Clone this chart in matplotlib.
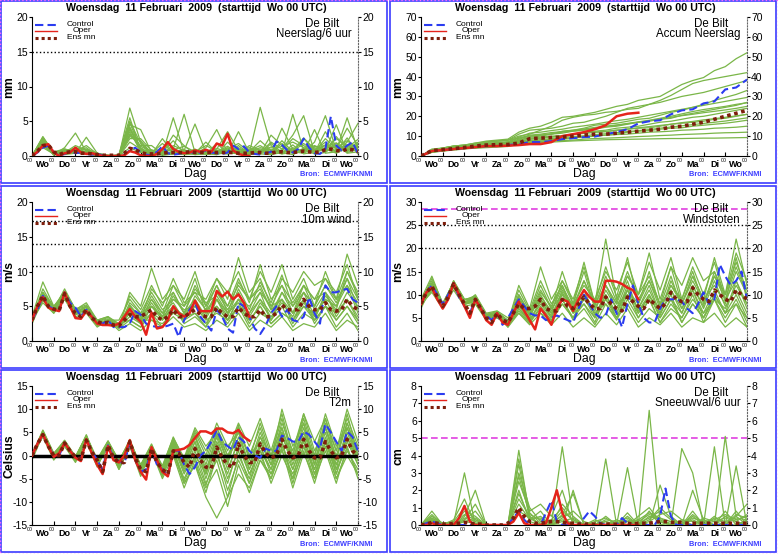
import numpy as np
import matplotlib
matplotlib.use('Agg')
import matplotlib.pyplot as plt
import matplotlib.transforms as mtransforms
from matplotlib.patches import Rectangle

plt.rcParams['font.family'] = ['Liberation Sans', 'DejaVu Sans']
plt.rcParams['axes.unicode_minus'] = False

days = ['Wo', 'Do', 'Vr', 'Za', 'Zo', 'Ma', 'Di', 'Wo', 'Do', 'Vr', 'Za', 'Zo', 'Ma', 'Di', 'Wo']
hours6 = list(range(0, 361, 6))
hours12 = list(range(0, 361, 12))
title = 'Woensdag  11 Februari  2009  (starttijd  Wo 00 UTC)'

# ---- neerslag per 6 uur (mm) ----
precip_control = [0, 0.5, 1.2, 1.5, 0.6, 0, 0.3, 0.6, 0.4, 0.5,
                  0.3, 0.2, 0.3, 0.1, 0, 0, 0, 0.2, 0.8, 1.2,
                  0.5, 0.2, 0.1, 0.6, 1.4, 0.4, 0.2, 0.3, 0.5, 0.6,
                  0.4, 0.5, 0.8, 0.5, 0.4, 0.3, 0.5, 1.5, 1.0, 1.4,
                  0.5, 0.3, 0.2, 0.4, 0.6, 2.1, 1.6, 0.8, 0.5, 1.0,
                  2.5, 1.2, 0.4, 0.3, 1.0, 5.7, 1.5, 0.8, 1.5, 2.0,
                  0.3]
precip_oper = [0, 0.6, 1.5, 1.7, 0.5, 0, 0.4, 0.5, 1.2, 0.5,
               0.3, 0.4, 0.2, 0, 0, 0, 0, 0.1, 0.7, 0.5,
               0.1, 0, 0, 0.3, 1.0, 2.0, 1.0, 0.6, 0.4, 0.5,
               0.8, 0.6, 0.9, 0.6, 1.8, 1.5, 3.2, 0.8, 0.3, 0.1,
               0]
precip_mean = [0, 0.7, 1.5, 1.6, 0.6, 0.2, 0.5, 0.6, 0.6, 0.4,
               0.4, 0.3, 0.2, 0.1, 0.1, 0.1, 0.1, 0.4, 1.1, 0.9,
               0.5, 0.3, 0.3, 0.3, 0.4, 0.5, 0.5, 0.5, 0.5, 0.6,
               0.5, 0.5, 0.5, 0.5, 0.5, 0.5, 0.5, 0.5, 0.4, 0.4,
               0.4, 0.5, 0.5, 0.4, 0.4, 0.6, 0.6, 0.5, 0.5, 0.6,
               0.7, 0.6, 0.5, 0.6, 0.9, 1.0, 0.8, 0.7, 1.0, 0.9,
               0.6]
precip_members = [
    [0, 2.8, 0.4, 0.6, 1.0, 0.3, 0.1, 0, 0, 6.9, 2.0, 0.3, 0.5, 1.0, 6.0, 0.5, 0.3, 1.0, 3.5, 0.8, 0.3, 0.5, 2.0, 1.0, 3.0, 5.8, 0.5, 1.0, 2.5, 1.5, 0.5],
    [0, 2.2, 0.2, 1.2, 3.3, 0.6, 0.2, 0, 0.1, 4.5, 3.8, 0.5, 0.2, 0.3, 0.8, 4.6, 0.5, 0.2, 0.6, 1.0, 0.4, 7.0, 1.5, 0.3, 0.5, 1.0, 0.6, 2.5, 1.0, 4.0, 1.5],
    [0, 1.8, 0.5, 0.8, 0.4, 2.7, 0.4, 0.1, 0, 3.0, 1.5, 1.5, 0.3, 5.5, 0.5, 0.3, 1.2, 3.8, 0.5, 0.3, 1.5, 0.8, 0.3, 4.0, 1.0, 0.5, 2.0, 5.8, 0.8, 1.0, 2.0],
    [0, 2.0, 0.3, 0.5, 1.5, 0.8, 0.3, 0, 0.2, 5.5, 0.8, 0.4, 1.8, 0.5, 0.3, 0.4, 2.0, 0.5, 0.3, 3.5, 0.5, 0.3, 1.8, 0.5, 6.0, 0.8, 1.5, 0.8, 4.5, 0.5, 1.0],
    [0, 2.5, 0.6, 1.0, 0.6, 1.2, 0.1, 0, 0, 2.5, 2.5, 0.8, 0.5, 3.0, 1.5, 0.2, 0.3, 0.4, 1.2, 0.5, 0.2, 0.4, 3.0, 1.5, 0.5, 2.5, 0.8, 1.5, 0.5, 2.0, 4.7],
    [0, 1.5, 0.2, 0.4, 0.8, 0.5, 0.2, 0, 0, 3.8, 1.2, 0.2, 0.4, 1.5, 0.8, 0.5, 0.3, 1.8, 0.4, 0.6, 0.8, 1.5, 0.5, 0.8, 2.5, 1.5, 0.5, 3.5, 0.8, 5.5, 0.8],
    [0, 2.3, 0.1, 0.7, 1.1, 0.4, 0, 0, 0, 4.0, 0.6, 0.2, 2.5, 0.4, 0.2, 0.6, 0.3, 0.2, 2.0, 0.4, 0.2, 0.8, 0.4, 2.2, 0.6, 0.4, 1.2, 0.6, 2.8, 0.9, 1.6],
    [0, 1.2, 0.3, 0.3, 0.5, 0.6, 0.2, 0.1, 0, 2.0, 1.0, 0.3, 0.2, 0.6, 0.4, 1.0, 0.2, 0.6, 0.3, 1.5, 0.3, 0.4, 0.6, 0.3, 1.2, 0.5, 3.8, 0.4, 0.6, 2.6, 0.3],
    [0, 2.6, 0.5, 0.2, 0.4, 0.3, 0.1, 0, 0, 1.2, 0.5, 0.6, 0.1, 0.3, 0.6, 0.2, 0.8, 0.3, 0.6, 0.3, 1.0, 0.3, 0.2, 0.5, 0.2, 0.9, 0.3, 0.5, 1.8, 0.4, 0.6],
    [0, 1.6, 0.4, 0.9, 0.7, 1.5, 0.3, 0, 0.1, 5.0, 1.8, 0.1, 0.3, 1.2, 0.2, 0.3, 0.5, 0.8, 1.0, 0.2, 0.6, 2.2, 0.8, 0.4, 1.6, 0.3, 0.6, 1.0, 0.4, 1.2, 2.4],
    [0, 2.0, 0.5, 0.4, 1.2, 0.9, 0.2, 0, 0, 3.2, 1.4, 0.6, 0.8, 0.9, 1.4, 0.6, 1.5, 0.7, 1.0, 1.8, 0.6, 1.2, 0.8, 1.4, 2.0, 1.2, 0.9, 1.6, 1.2, 2.2, 1.0],
    [0, 2.4, 0.3, 0.6, 0.9, 0.4, 0.1, 0, 0, 4.8, 0.9, 0.3, 0.6, 2.2, 0.4, 0.8, 0.4, 1.1, 0.6, 0.8, 1.2, 0.5, 1.0, 0.6, 0.8, 2.6, 1.0, 0.7, 1.4, 0.6, 1.8],
    [0, 1.9, 0.2, 1.0, 0.6, 0.7, 0.2, 0.1, 0, 2.8, 2.2, 0.4, 0.3, 0.7, 0.9, 0.4, 0.6, 0.5, 1.4, 0.4, 0.7, 1.0, 0.6, 1.8, 0.4, 1.1, 0.8, 2.0, 0.6, 1.4, 0.9],
    [0, 2.7, 0.4, 0.5, 0.8, 0.6, 0.3, 0, 0, 3.5, 0.7, 0.9, 0.4, 0.5, 0.3, 0.9, 0.3, 0.6, 0.8, 0.6, 0.4, 0.6, 1.3, 0.5, 1.0, 0.6, 1.4, 0.9, 0.8, 1.6, 1.2],
    [0, 1.4, 0.6, 0.7, 0.5, 1.0, 0.4, 0, 0.1, 4.2, 1.1, 0.2, 0.5, 0.4, 0.6, 0.3, 0.9, 0.4, 0.5, 1.2, 0.3, 0.8, 0.5, 0.9, 0.7, 1.8, 0.6, 1.2, 1.9, 0.8, 1.4],
]

# ---- geaccumuleerde neerslag (mm), 12-uurs ----
accum_control = [0, 2.5, 3, 3.5, 4, 4.5, 5, 5, 5.5, 6, 7, 7, 7.5, 8.5, 9, 9.5, 9.8, 11, 12, 13.5,
                 16.4, 17.5, 18, 21, 23, 23.5, 26.5, 27.5, 33.5, 34.5, 38.5]
accum_oper = [0, 2.5, 3, 3.5, 4, 4.5, 5, 5, 5.2, 5.5, 6, 6, 7, 10, 11, 12, 13.5, 15.5, 20, 21.3, 21.8]
accum_mean = [0, 2.7, 3.2, 3.7, 4.3, 5, 5.5, 5.7, 5.8, 6.5, 8.7, 9, 9.3, 9.5, 10, 10.5, 11, 11, 11.5, 12,
              12.5, 13, 13.5, 14.5, 15, 16, 17, 18.5, 20, 21.5, 23]
accum_members = [
    [0, 3.0, 4.0, 5.0, 5.5, 6.5, 7.5, 8.0, 8.5, 12.0, 14.0, 15.0, 17.0, 19.5, 20.0, 21.0, 22.0, 23.5, 25.0, 26.0, 28.0, 29.0, 30.0, 33.0, 36.0, 38.0, 39.5, 43.0, 45.0, 49.0, 52.0],
    [0, 2.5, 3.5, 4.5, 5.0, 6.0, 7.0, 7.5, 8.0, 10.0, 11.0, 13.0, 15.0, 18.0, 19.5, 20.5, 21.0, 22.0, 22.5, 23.5, 24.0, 26.0, 28.0, 30.5, 33.5, 36.5, 38.0, 39.0, 40.0, 41.0, 42.0],
    [0, 3.5, 4.0, 5.0, 5.5, 6.5, 7.0, 7.5, 8.0, 11.0, 13.0, 13.5, 14.0, 15.0, 16.5, 17.0, 18.5, 20.0, 22.0, 24.0, 25.0, 26.0, 27.0, 28.5, 30.0, 31.0, 32.0, 33.5, 35.0, 36.5, 38.0],
    [0, 2.0, 3.0, 3.8, 4.5, 5.0, 5.5, 6.0, 6.5, 8.0, 9.5, 10.0, 11.0, 12.5, 13.0, 14.0, 15.5, 16.0, 16.5, 17.5, 18.5, 19.0, 20.5, 22.0, 23.0, 24.5, 26.0, 28.0, 29.5, 31.0, 33.0],
    [0, 3.0, 4.0, 5.0, 5.5, 6.0, 7.0, 7.5, 8.0, 9.0, 10.0, 10.5, 11.0, 11.5, 12.5, 13.0, 13.5, 14.5, 15.0, 16.0, 17.0, 17.5, 18.5, 19.0, 20.5, 21.5, 22.5, 23.5, 24.5, 25.5, 27.0],
    [0, 2.5, 3.0, 3.5, 4.0, 4.5, 5.0, 5.5, 6.0, 7.0, 8.5, 9.0, 9.5, 10.0, 11.0, 12.0, 12.5, 13.0, 14.0, 14.5, 15.0, 16.0, 17.0, 17.5, 18.5, 19.5, 20.0, 21.0, 22.0, 23.0, 24.0],
    [0, 3.0, 3.5, 4.0, 5.0, 5.5, 6.0, 6.3, 6.5, 8.0, 9.0, 9.5, 10.0, 10.3, 11.0, 11.5, 12.0, 12.2, 13.0, 13.5, 14.0, 14.2, 15.0, 16.0, 16.5, 17.0, 17.5, 18.5, 19.0, 20.0, 21.0],
    [0, 2.0, 2.5, 3.2, 3.8, 4.0, 4.5, 5.0, 5.3, 6.0, 7.0, 7.5, 8.2, 8.5, 9.0, 9.8, 10.0, 10.5, 11.0, 12.0, 12.5, 12.8, 13.5, 14.0, 14.2, 15.0, 15.5, 16.0, 16.5, 17.2, 18.0],
    [0, 2.8, 3.5, 4.2, 4.5, 5.0, 5.5, 5.8, 6.0, 7.0, 7.5, 8.0, 8.3, 9.0, 9.2, 9.5, 10.0, 10.5, 10.8, 11.0, 11.5, 12.0, 12.2, 12.5, 13.0, 13.2, 13.5, 14.0, 14.2, 14.5, 15.0],
    [0, 2.2, 3.0, 3.5, 4.0, 4.3, 4.8, 5.0, 5.2, 6.5, 7.0, 7.2, 7.5, 7.8, 8.0, 8.5, 8.8, 9.0, 9.2, 9.5, 9.8, 10.0, 10.3, 10.5, 10.8, 11.0, 11.2, 11.5, 11.7, 11.8, 12.0],
    [0, 1.8, 2.5, 3.0, 3.5, 4.0, 4.2, 4.5, 4.8, 6.0, 6.5, 6.8, 7.0, 7.3, 7.6, 7.8, 8.0, 8.2, 8.3, 8.4, 8.5, 8.6, 8.7, 8.8, 8.8, 8.9, 9.0, 9.0, 9.1, 9.2, 9.3],
    [0, 2.6, 3.4, 4.0, 4.8, 5.3, 6.0, 6.3, 6.6, 8.5, 10.0, 10.5, 11.2, 12.0, 12.6, 13.2, 14.0, 14.8, 15.5, 16.2, 17.0, 17.8, 18.5, 19.5, 20.3, 21.0, 21.8, 22.5, 23.2, 24.0, 25.0],
    [0, 3.2, 3.8, 4.5, 5.2, 5.8, 6.4, 6.8, 7.2, 9.5, 11.5, 12.0, 12.8, 13.5, 14.5, 15.2, 16.0, 17.0, 17.8, 18.5, 19.5, 20.5, 21.5, 22.5, 23.5, 24.5, 25.5, 26.5, 27.5, 28.5, 29.5],
    [0, 2.4, 3.2, 3.8, 4.2, 4.8, 5.2, 5.6, 6.0, 7.5, 8.5, 9.0, 9.6, 10.2, 10.8, 11.4, 12.0, 12.4, 13.0, 13.6, 14.2, 14.8, 15.4, 16.0, 16.8, 17.4, 18.2, 18.8, 19.5, 20.2, 21.0],
    [0, 2.9, 3.6, 4.4, 5.0, 5.6, 6.2, 6.6, 7.0, 9.0, 10.5, 11.0, 11.8, 12.3, 13.0, 13.6, 14.4, 15.0, 15.6, 16.4, 17.2, 18.0, 19.0, 20.0, 21.2, 22.4, 23.4, 24.2, 25.0, 26.0, 26.8],
    [0, 2.3, 2.9, 3.4, 3.9, 4.4, 4.9, 5.2, 5.5, 6.8, 7.8, 8.2, 8.8, 9.3, 9.8, 10.2, 10.8, 11.2, 11.8, 12.3, 12.8, 13.3, 14.0, 14.6, 15.2, 15.8, 16.4, 17.0, 17.6, 18.4, 19.2],
]

# ---- 10m wind (m/s) ----
wind_control = [3, 4.5, 6.5, 5, 4.6, 4.4, 7, 5.5, 4.8, 3.5,
                4.5, 3.5, 2.8, 2.5, 3, 2, 2, 2, 2.5, 4.3,
                3.8, 2.5, 2.2, 2, 2, 2.2, 2.5, 0.6, 3, 4.5,
                5.5, 3.5, 2.5, 1.5, 4.5, 3.5, 1.8, 1.2, 5.5, 5,
                3.5, 1.8, 1, 2.2, 4, 5, 3.5, 4.5, 3, 2.8,
                3.5, 6.3, 4, 2.5, 8, 7, 7, 7.3, 7.5, 6,
                5.5]
wind_oper = [3, 5, 6.3, 4.8, 4.5, 4.3, 7, 5, 3.3, 3.2,
             4.3, 3.5, 2.5, 2.3, 2.3, 2.2, 2.5, 3.5, 4.6, 3.5,
             2.8, 0.9, 4.1, 1.8, 2, 3, 5, 4, 3.5, 4,
             5.8, 4.3, 4.3, 4.3, 7.2, 6.4, 7.1, 6, 6.7, 5.5,
             3.5]
wind_mean = [3, 5, 6.5, 5, 4.6, 4.4, 6.8, 5, 4, 3.5,
             4.5, 3.3, 2.8, 2.5, 2.7, 2.3, 2.2, 3, 3.8, 3.5,
             3.5, 4, 4.5, 3.5, 3, 3.5, 4.5, 3.5, 3.5, 4,
             4.5, 3.8, 3.5, 3.5, 4.8, 4, 3.5, 3.5, 4.8, 4,
             3.5, 3.5, 4.5, 3.5, 3.5, 4, 5.2, 4.5, 4.5, 4.5,
             6, 5, 4.5, 4.5, 5.5, 4.5, 4.3, 4.5, 6, 5,
             4.5]
wind_members = [
    [3, 7, 4.5, 6.5, 4, 5, 2.5, 3, 2, 5, 3, 6, 3.5, 7, 4, 8, 5, 9, 6, 12, 7, 9, 5, 8, 4, 7, 5, 10, 6, 8, 4],
    [3, 6, 5, 7, 4.5, 4, 3, 2.5, 2.5, 3, 2, 4, 2, 5, 3, 4, 2, 6, 3, 5, 2, 4, 3, 6, 2.5, 5, 3, 7, 4, 6, 3],
    [2.5, 6.5, 4.5, 7, 4, 4.5, 2.5, 3, 2, 7, 5, 10.5, 6, 8, 5, 9, 4, 7, 5, 8, 6, 10, 7, 11, 6, 9, 5, 8, 6, 12.5, 8],
    [3.5, 8.5, 5, 6, 4.5, 5.5, 3, 3.5, 2.5, 4, 3, 3, 2, 3.5, 2, 2.5, 1.5, 3, 2, 4, 1.5, 3, 2, 3.5, 1.5, 2.5, 2, 4, 1.5, 3, 2],
    [3, 6, 4.5, 7.5, 4.5, 5, 3, 2.5, 2, 5.5, 4, 7, 4.5, 6, 5, 7, 6, 9, 7, 10, 6, 8, 4.5, 9, 7, 10, 8, 9, 6, 10, 7],
    [3, 5.5, 4, 6, 3.5, 4, 2, 3, 1.5, 2.5, 1.5, 3, 2.5, 4, 3, 5, 4, 5, 3, 6, 4, 7, 3, 5, 2, 4, 3, 5, 2, 4, 1.5],
    [3, 6.5, 4.5, 6.5, 4, 4.5, 2.5, 3, 3, 6, 4, 5, 3, 6, 4.5, 5, 3, 4, 3, 5, 4, 6, 4, 7, 5, 8, 6, 7, 5, 9, 6],
    [3, 7, 5, 6.5, 4, 5, 3, 3.5, 2, 4, 2.5, 5, 3.5, 5, 2.5, 3.5, 2, 4.5, 2.5, 5, 3, 5, 2.5, 4, 3, 6, 2.5, 5, 3, 5, 2.5],
    [3, 6, 4.5, 7, 4.5, 4.5, 2.5, 2.5, 2.5, 4.5, 3, 6, 4, 8, 6, 10, 5, 8, 4, 6, 3, 5, 2.5, 4, 3, 5, 4, 6, 3, 5, 3],
    [2.5, 6, 4, 6.5, 4, 5, 2.5, 3, 2, 3.5, 2.5, 4, 3, 5, 3.5, 4, 2.5, 5, 3, 6, 5, 7, 5, 6, 4, 6, 3, 5, 4, 7, 5],
    [3, 6.8, 4.8, 7, 4.2, 4.8, 2.8, 3.2, 2.2, 6.5, 4.5, 8, 5, 9, 5.5, 7, 4.5, 8, 5, 9, 5.5, 11, 6, 8, 5.5, 8, 6, 9, 7, 11, 6],
    [3, 6.2, 4.2, 6.8, 3.8, 4.2, 2.2, 2.8, 1.8, 3, 2, 5, 3.5, 6.5, 4, 6, 3.5, 7, 4.5, 7, 3.5, 6, 3, 7, 4, 8, 4.5, 7, 3.5, 6, 3.5],
    [3.2, 7.5, 4.8, 7.2, 4.6, 5.2, 2.8, 3.4, 2.4, 5, 3.5, 6.5, 4, 5.5, 3, 6.5, 4.5, 6, 3.5, 7.5, 4.5, 8.5, 5.5, 9.5, 5, 7, 3.5, 6, 5, 8, 5.5],
    [2.8, 5.8, 4.3, 6.2, 3.8, 4.6, 2.6, 2.8, 2.2, 4.2, 2.8, 5.5, 3.2, 4.5, 3.8, 5.5, 3.2, 6, 4, 5.5, 2.5, 5.5, 3.5, 5.5, 3.5, 7, 5, 8, 5.5, 9, 4.5],
    [3, 6.6, 4.6, 6.6, 4.1, 4.9, 2.4, 3.1, 2.1, 5.2, 3.2, 7.5, 5.5, 7, 4, 7.5, 5.5, 6.5, 4, 8.5, 6, 7.5, 4.5, 6, 3, 5.5, 3.5, 6.5, 4.5, 10, 6.5],
]

# ---- windstoten (m/s) ----
gust_control = [8, 10.5, 12, 10, 8, 10, 12.5, 9.5, 7.5, 6,
                9, 7, 5.5, 4.5, 6, 3.5, 5, 7, 9, 7.5,
                6, 5.5, 5.5, 4.5, 5, 5.5, 5, 4.5, 4, 7,
                10, 8, 6, 5, 5.5, 9, 6, 3, 8, 12,
                8, 5, 4, 4, 7, 9, 9, 9, 8.5, 7,
                6, 8, 10.5, 8, 9, 16.5, 14, 12, 13, 15,
                9]
gust_oper = [8, 10.5, 11.5, 9, 7, 9, 12.5, 10, 7.5, 5,
             9, 7, 4.5, 3.5, 6, 4, 3.5, 6, 8.5, 6.5,
             4.5, 2.5, 7, 5.5, 3.5, 7, 9, 8.5, 6.5, 9,
             11, 9.5, 8.5, 8.5, 13, 13, 12.8, 12.3, 11.5, 11,
             9]
gust_mean = [8, 10.5, 11.8, 9.5, 7.5, 9.5, 12.3, 10, 8, 6,
             9, 7, 5, 4, 6, 4.5, 4, 6, 8, 7,
             7, 7.5, 9, 7, 6.5, 6.5, 9, 7.5, 7, 8,
             9.5, 8, 7, 7, 9.5, 8, 7, 6.5, 9.5, 8.5,
             7.5, 7, 9, 8, 7, 8, 10.5, 9, 8.5, 8.5,
             11.5, 10, 9, 8.5, 11, 10, 9, 8.5, 11, 10,
             9]
gust_members = [
    [8, 13, 8, 12.5, 8, 9, 5, 6, 3.5, 10, 6, 12, 7, 15, 8, 17, 8, 22, 9, 14, 10, 19, 9, 16, 8, 14, 9, 18, 10, 22, 12],
    [7.5, 11, 7.5, 12, 8.5, 8, 5, 5, 4, 6, 4, 7, 4, 9, 5, 8, 4, 10, 5, 8, 4, 7, 5, 9, 4, 8, 5, 10, 6, 8, 5],
    [8, 12, 7, 13, 9, 9.5, 5.5, 6, 4, 12, 7, 16, 9, 13, 8, 15, 7, 12, 8, 14, 10, 17, 11, 18, 9, 15, 8, 14, 10, 19, 13],
    [9, 14, 8, 11.5, 8, 10, 6, 6.5, 5, 8, 5, 6, 3.5, 6, 3, 5, 3, 6, 3.5, 7, 3, 5, 3.5, 6, 3, 5, 4, 6, 3, 5, 3],
    [8, 11.5, 7.5, 13, 9, 9, 5.5, 5, 3.5, 9, 6, 11, 7, 10, 8, 12, 9, 15, 11, 17, 10, 14, 8, 16, 12, 18, 13, 15, 10, 17, 11],
    [8, 10.5, 7, 11, 7.5, 8, 4.5, 5.5, 3, 6, 3.5, 6, 4.5, 8, 5, 9, 6, 9, 5, 11, 7, 12, 6, 10, 4, 8, 5, 9, 4, 8, 3],
    [8, 12, 7.5, 12.5, 8.5, 9, 5, 6, 4.5, 10, 6, 9, 5, 11, 7, 10, 6, 8, 5, 10, 7, 11, 6, 13, 8, 14, 9, 12, 8, 15, 10],
    [8.5, 12.5, 8, 12, 8, 9.5, 5.5, 6, 3.5, 7, 4, 9, 6, 9, 4.5, 7, 3.5, 8, 4.5, 9, 5, 9, 4, 7, 5, 10, 4, 9, 5, 9, 4],
    [8, 11, 7.5, 12.5, 8, 8.5, 5, 5, 4, 8, 5, 10, 6, 13, 9, 16, 8, 12, 7, 11, 5, 9, 4, 8, 5, 9, 6, 11, 6, 10, 5],
    [7, 12, 7, 12, 8, 9, 5, 6, 3, 7, 4.5, 8, 5, 10, 6, 8, 5, 9, 6, 11, 8, 13, 8, 11, 7, 11, 6, 9, 7, 12, 8],
    [8, 12.5, 7.8, 12.8, 8.8, 9.8, 5.8, 6.2, 4.2, 11, 6.5, 13, 8, 12, 7, 13, 7.5, 14, 8.5, 15, 9, 13, 7, 12, 9, 16, 10, 17, 9, 16, 10],
    [8, 11.8, 7.2, 12.2, 7.8, 8.8, 5.2, 5.8, 3.8, 7.5, 4.5, 8.5, 5.5, 10.5, 6.5, 11, 5.5, 10, 6, 12, 6.5, 10, 5.5, 11, 6, 12, 7, 13, 7.5, 11, 6],
    [8.2, 12.2, 7.6, 12.4, 8.2, 9.2, 5.4, 5.6, 3.6, 8.5, 5.5, 10.5, 7.5, 12, 6, 9.5, 5, 11, 7, 13, 6, 10, 5, 9, 6, 11, 5, 10, 6, 13, 7],
    [7.8, 11.2, 7.4, 11.8, 8, 8.6, 5, 5.4, 3.2, 6.5, 3.8, 7.5, 4.5, 8, 5, 9.5, 6.5, 12, 8, 10, 6, 9.5, 7, 12, 8, 13, 8.5, 14, 9, 13, 8],
    [8.4, 13.5, 8.2, 12.6, 8.4, 9.6, 5.6, 6.4, 4.4, 9.5, 5.5, 9.5, 6.5, 11.5, 7.5, 13, 8, 16, 9.5, 18, 8, 15, 7.5, 14, 7, 12, 7.5, 15, 8.5, 18, 9],
]

# ---- T2m (Celsius) ----
t2m_control = [0, 2.5, 4.5, 2, 0, 0, 2.8, 1, -0.3, -0.8,
               3.5, 1, -1, -3, 2.2, -0.5, -1.2, -1.8, 3, -1,
               -3.5, -3, 1.5, -2, -3, -4.5, 1, 1, -2, -4,
               -2.5, 0, 1, 3, 5.5, 3, 2, 1.2, 4, 3,
               1, 0, -0.5, 1.5, 1, 1, 4.3, 3.8, 3, 3,
               5.2, 4.5, 3, 1.5, 6.8, 5, 3, 1, 5.2, 4,
               1]
t2m_oper = [0, 2.5, 4.6, 2, -0.3, 0.5, 2.7, 1, -0.5, -1.2,
            3.5, 0.5, -2, -4, 2, -1, -1.5, 0, 3.3, -1,
            -3.5, -5.2, 1.8, -1, -3.5, -4.5, 1, 1.2, 1.5, 2.3,
            3.8, 5.2, 5.2, 4.7, 5.8, 5.8, 5, 4.8, 5.5, 4,
            3.2]
t2m_mean = [0, 2.5, 4.5, 2, 0, 0, 2.7, 1, -0.3, -0.8,
            3.3, 0.8, -1, -3.5, 2.2, -0.5, -1.5, -1.5, 3, -0.5,
            -3, -3.5, 1.5, -1.5, -3, -4, 1, 0.5, -1.5, -2.5,
            1.5, -1, -2.5, -2.8, 1.8, -0.5, -2, -2.5, 2.5, 0,
            -1.5, -1.5, 2.5, 0.5, -0.5, 0, 3.5, 1, -0.5, 0,
            3.5, 1, -0.5, -0.5, 3, 1, -0.5, 0, 3.5, 1,
            0]
t2m_members = [
    [0, 5, 0, 3, -0.5, 4, -1.5, 2.5, -2, 3, -3, 2, -3, 3, -2, 4, -1, 6, 1, 7, 2, 8, 1, 9, 0, 8, 0, 7, 1, 8, 2],
    [-0.5, 4.5, -0.5, 2.5, -1, 3.5, -2, 2, -2.5, 2.5, -4, 1, -4.5, 1, -6, -2, -9, -13.5, -9, -4, -7, -1, -5, 2, -3, 3, -4, 2, -5, 1, -3],
    [0, 5.5, 0.5, 3, -0.5, 4, -1, 3, -1.5, 3.5, -2.5, 2, -2.5, 4, -1, 5, 0, 7, 2, 5, 0, 3, -2, 4, -1, 6, -2, 5, -3, 6, -1],
    [0, 4, -1, 2, -1.5, 3, -2.5, 2.5, -3, 2, -4.5, 1, -5, 0, -7, -1, -8, 0, -6, 2, -4, 1, -6, 0, -5, 1, -6, 2, -5, 0, -4],
    [0, 5, 0, 3, -0.5, 4.5, -1.5, 3, -1, 3, -2, 1.5, -3, 2, -3, 3, -5, 2, -4, 4, -2, 5, -1, 7, 1, 9, 3, 8, 1, 10, 3],
    [-1, 4.5, -0.5, 2.5, -1, 3.5, -2, 2, -2, 3, -3.5, 1.5, -4, 2, -4, 1, -6, -1, -9, 0, -5, 3, -2, 5, -3, 4, -4, 3, -2, 5, -1],
    [0, 5, 0, 3, -1, 4, -1.5, 2.5, -1.5, 2.5, -3, 2, -3.5, 3, -2, 4, -3, 3, -2, 6, 0, 6, -1, 10, 2, 7, -1, 6, 0, 7, 1],
    [0, 4.5, -0.5, 2.5, -1, 3.5, -2, 2, -2.5, 3, -3, 1, -4, 1, -5, 0, -4, 4, -3, 3, -4, 1, -3, 3, -6, 2, -3, 4, -4, 3, -2],
    [0.5, 5, 0, 3, -0.5, 4, -1, 3, -2, 2.5, -2, 2.5, -3, 3, -1, 5.5, 1, 6, 0, 5, -2, 4, 0, 6, -2, 5, 0, 9, 2, 6, 0],
    [0, 4.5, 0, 2, -1, 3, -2, 2, -3, 2, -4, 1.5, -4, 0.5, -6, -2, -7, -3, -11, -2, -8, -1, -4, 1, -4, 2, -5, 1, -6, 2, -5],
    [0, 5.2, 0.2, 3.2, -0.3, 4.2, -1.2, 2.8, -1.8, 3.2, -2.8, 2.2, -2.8, 3.5, -1.5, 4.5, -2, 5, -1, 6.5, -1, 7, 0, 8, -1, 7, -2, 8, -1, 9, 0],
    [-0.3, 4.8, -0.3, 2.8, -0.8, 3.8, -1.8, 2.2, -2.2, 2.8, -3.2, 1.8, -3.8, 2.5, -3.5, 2, -4, 2.5, -5, 1, -6, 2, -4, 3, -5, 4, -3, 3, -4, 4, -2],
    [0, 4.6, -0.2, 2.6, -1.2, 3.6, -2.2, 2.2, -2.6, 2.6, -3.8, 1.2, -4.2, 1.5, -5.5, -0.5, -6.5, 1, -7.5, -1, -6, 0, -5, 1.5, -7, 0.5, -5, 3, -3, 1.5, -4],
    [0.2, 5.4, 0.4, 3.3, -0.2, 4.3, -0.8, 3.2, -1.2, 3.3, -2.2, 2.3, -2.2, 3.8, -0.5, 6, 2, 5, 0, 3, -3, 2, -3, 5, 0, 9, 1, 6, -2, 4, -1],
    [0, 4.8, 0, 2.8, -0.7, 3.7, -1.7, 2.7, -2.3, 2.7, -3.3, 1.7, -3.3, 2.7, -2.5, 3, -3.5, 4.5, -1.5, 5.5, -3, 4, -2, 6, -1, 5, -2, 6, -1, 7, 0],
]

# ---- sneeuwval per 6 uur (cm) ----
snow_control = [0, 0.1, 0.2, 0.1, 0, 0, 0, 0, 0, 0,
                0, 0, 0, 0, 0, 0, 0, 0.4, 0.8, 0.3,
                0, 0, 0, 0.7, 1.4, 0.2, 0, 0, 0, 0,
                0.4, 0.8, 0.5, 0.1, 0, 0, 0, 0.4, 0.1, 0,
                0, 0, 0, 0, 0.5, 2.1, 0.5, 0, 0, 0,
                0, 0, 0, 0, 0, 0, 0, 0, 0, 0,
                0]
snow_oper = [0, 0, 0.1, 0, 0, 0, 0, 0.4, 1.1, 0.2,
             0, 0, 0, 0, 0, 0, 0, 0.2, 0.7, 0.1,
             0, 0, 0, 0.1, 1.0, 2.0, 0.7, 0.1, 0, 0,
             0, 0, 0, 0, 0, 0, 0, 0, 0, 0,
             0]
snow_mean = [0, 0.05, 0.15, 0.1, 0.05, 0.05, 0.1, 0.1, 0.15, 0.1,
             0.05, 0.05, 0, 0, 0, 0, 0.1, 0.4, 1.0, 0.5,
             0.2, 0.1, 0.1, 0.15, 0.2, 0.2, 0.15, 0.1, 0.1, 0.05,
             0.05, 0.05, 0.05, 0.05, 0.05, 0.05, 0.05, 0.1, 0.1, 0.05,
             0.1, 0.1, 0.1, 0.15, 0.2, 0.2, 0.15, 0.15, 0.15, 0.1,
             0.1, 0.1, 0.1, 0.1, 0.1, 0.1, 0.1, 0.1, 0.1, 0.1,
             0.1]
snow_members = [
    [0, 0.8, 0, 0.1, 3.0, 0, 0, 0, 0, 4.3, 0.5, 0, 0, 4.5, 0.3, 0, 0, 0, 0, 0.3, 0, 6.6, 0.2, 0, 0, 0.3, 0, 0, 5.1, 0.5, 0],
    [0, 0.3, 0, 0, 0.5, 2.0, 0, 0, 0, 3.5, 0.3, 0.5, 0, 0, 2.0, 0, 0, 3.8, 0, 0, 0, 0.5, 0.3, 0, 4.4, 3.0, 0, 0, 0, 3.4, 0],
    [0, 0.5, 0.1, 0.2, 1.0, 0.3, 0, 0, 0, 3.0, 1.0, 0.2, 0.3, 1.0, 0.2, 0, 0, 0.5, 0, 3.3, 0, 0, 2.3, 0.5, 0, 0.8, 0, 4.5, 0, 0.5, 1.2],
    [0, 0.2, 0, 0, 0.8, 0.5, 0, 0, 0, 2.5, 0.8, 1.2, 0.5, 2.0, 0, 0, 0, 0, 0.3, 0, 0.5, 1.0, 0.2, 0, 0, 0, 0.3, 0, 0.8, 0, 0.3],
    [0, 0.6, 0, 0, 0.3, 0.8, 0, 0, 0, 2.0, 0.2, 0, 0, 1.2, 0.5, 0, 0.3, 0, 0, 0.5, 0, 0.8, 0, 0, 0.3, 0, 0, 0.5, 0, 0, 0.2],
    [0, 0.4, 0, 0.3, 1.5, 0, 0, 0, 0, 1.5, 0.5, 0, 0, 0.3, 0, 0, 0, 0, 0, 0, 0.3, 0, 0, 0.2, 0, 0.5, 0, 0, 0, 0.8, 0],
    [0, 0.1, 0, 0, 0.2, 0.1, 0, 0, 0, 1.2, 0.3, 0.8, 0, 0.6, 1.8, 0, 0, 0.2, 0, 0.7, 0, 0.3, 1.0, 0.4, 0, 2.0, 0.3, 0, 0.5, 0.2, 0],
    [0, 0.3, 0, 0, 0.4, 0.2, 0, 0, 0, 0.8, 0.4, 0, 0.2, 0.5, 0, 0, 0, 0.2, 0, 0, 0.2, 0.6, 0.4, 0, 0.2, 0, 0.4, 0.2, 0, 0.6, 0.4],
    [0, 0.2, 0, 0.1, 0.6, 0.3, 0, 0, 0, 2.8, 0.6, 0.3, 0.1, 0.8, 0.3, 0, 0.2, 0.4, 0, 0.2, 0.1, 0.4, 0.8, 0.3, 0, 0.4, 0.2, 0.3, 0.6, 0.3, 0.5],
    [0, 0.4, 0.1, 0, 0.3, 1.2, 0, 0, 0, 1.8, 0.4, 0.4, 0, 0.4, 0.8, 0.2, 0, 0.3, 0.2, 0.4, 0, 0.2, 0.6, 0.8, 0.3, 0.2, 0, 0.4, 0.2, 0.4, 0.3],
    [0, 0.3, 0, 0, 0.2, 0.4, 0, 0, 0, 3.8, 0.7, 0.1, 0, 0.2, 0.4, 0, 0, 0, 0.1, 0.2, 0.3, 0.7, 0.4, 0.2, 0, 0.6, 0.1, 0.2, 0.4, 0.2, 0.6],
]

# drempels
wind_beaufort = [10.8, 13.9, 17.2]
gust_black = [20, 25]
gust_magenta = 28.5
snow_magenta = 5

GREEN = '#7ab648'
BLUE = '#2b3cf0'
RED = '#e5231b'
BROWN = '#7d1e0c'
W, H = 778, 554

fig = plt.figure(figsize=(W / 100, H / 100), dpi=100)


def fx(px):
    return px / W


def fy(py):
    return 1 - py / H


def panel(px0, py0, ylim, ystep, ylabel, name, members, mhours, control, oper, mean, lhours):
    fig.patches.append(Rectangle((fx(px0 + 1), fy(py0 + 183)), 386 / W, 182 / H,
                                 transform=fig.transFigure, fill=False, ec='#3c3cff', lw=1.2))
    ax = fig.add_axes([fx(px0 + 32), fy(py0 + 156), 326 / W, 139 / H])
    for m in members:
        ax.plot(mhours, m, color=GREEN, lw=0.9, zorder=2)
    ax.plot(lhours[:len(control)], control, color=BLUE, lw=1.5, ls=(0, (4, 2)), zorder=4)
    ax.plot(lhours[:len(oper)], oper, color=RED, lw=1.8, zorder=5)
    ax.plot(lhours[:len(mean)], mean, color=BROWN, lw=2.6, ls=(0, (1, 1)), zorder=6)
    ax.set_xlim(0, 360)
    ax.set_ylim(*ylim)
    ax.set_yticks(np.arange(ylim[0], ylim[1] + 0.01, ystep))
    ax.tick_params(axis='y', labelsize=7.5, length=2, right=True, labelright=True, pad=1)
    ax.set_xticks(range(0, 361, 24))
    ax.set_xticklabels([])
    ax.tick_params(axis='x', length=3, direction='in')
    ax.spines['top'].set_visible(False)
    ax.spines['right'].set_linestyle(':')
    ax.spines['right'].set_color('#666666')
    trans = mtransforms.blended_transform_factory(ax.transData, ax.transAxes)
    for h in range(0, 361, 24):
        ax.text(h - 2, -0.03, '00', fontsize=3.8, ha='center', va='center', transform=trans)
    for i, d in enumerate(days):
        ax.text(12 + 24 * i, -0.062, d, fontsize=6.5, weight='bold', ha='center', va='center', transform=trans)
    # legende
    for yy, c, ls, lw in [(0.942, BLUE, (0, (4, 2)), 1.5), (0.898, RED, '-', 1.0), (0.85, BROWN, (0, (1, 1)), 2.2)]:
        ax.plot([0.01, 0.077], [yy, yy], color=c, ls=ls, lw=lw, transform=ax.transAxes, zorder=7)
    ax.text(0.148, 0.945, 'Control', fontsize=6, ha='center', va='center', transform=ax.transAxes)
    ax.text(0.152, 0.9, 'Oper', fontsize=6, ha='center', va='center', transform=ax.transAxes)
    ax.text(0.152, 0.855, 'Ens mn', fontsize=6, ha='center', va='center', transform=ax.transAxes)
    fig.text(fx(px0 + 196), fy(py0 + 8), title, fontsize=7.7, weight='bold', ha='center', va='center')
    fig.text(fx(px0 + 322), fy(py0 + 24), 'De Bilt', fontsize=8.3, ha='center', va='center')
    fig.text(fx(px0 + 352), fy(py0 + 34.5), name, fontsize=8.3, ha='right', va='center')
    fig.text(fx(px0 + 195), fy(py0 + 174), 'Dag', fontsize=8.8, ha='center', va='center')
    fig.text(fx(px0 + 372), fy(py0 + 175), 'Bron:  ECMWF/KNMI', fontsize=5.3, color='#3c3cff',
             weight='bold', ha='right', va='center')
    fig.text(fx(px0 + 9.5), fy(py0 + 87), ylabel, fontsize=8.8, weight='bold', rotation=90,
             ha='center', va='center')
    return ax


ax1 = panel(0, 0, (0, 20), 5, 'mm', 'Neerslag/6 uur', precip_members, hours12,
            precip_control, precip_oper, precip_mean, hours6)
ax1.axhline(15, color='k', ls=':', lw=1, zorder=1)

ax2 = panel(389, 0, (0, 70), 10, 'mm', 'Accum Neerslag', accum_members, hours12,
            accum_control, accum_oper, accum_mean, hours12)

ax3 = panel(0, 185, (0, 20), 5, 'm/s', '10m wind', wind_members, hours12,
            wind_control, wind_oper, wind_mean, hours6)
for b in wind_beaufort:
    ax3.axhline(b, color='k', ls=':', lw=1, zorder=1)

ax4 = panel(389, 185, (0, 30), 5, 'm/s', 'Windstoten', gust_members, hours12,
            gust_control, gust_oper, gust_mean, hours6)
for b in gust_black:
    ax4.axhline(b, color='k', ls=':', lw=1, zorder=1)
ax4.axhline(gust_magenta, color='#e040e0', ls=(0, (4, 2)), lw=1.2, zorder=1)

ax5 = panel(0, 369, (-15, 15), 5, 'Celsius', 'T2m', t2m_members, hours12,
            t2m_control, t2m_oper, t2m_mean, hours6)
ax5.axhline(0, color='k', lw=2.5, zorder=3)

ax6 = panel(389, 369, (0, 8), 1, 'cm', 'Sneeuwval/6 uur', snow_members, hours12,
            snow_control, snow_oper, snow_mean, hours6)
ax6.axhline(snow_magenta, color='#e040e0', ls=(0, (4, 2)), lw=1.2, zorder=1)

fig.patches.append(Rectangle((0, 0), 1, 1, transform=fig.transFigure, fill=False,
                             ec='#ff66ff', lw=1, ls=':'))

fig.savefig('out.png', dpi=100)
